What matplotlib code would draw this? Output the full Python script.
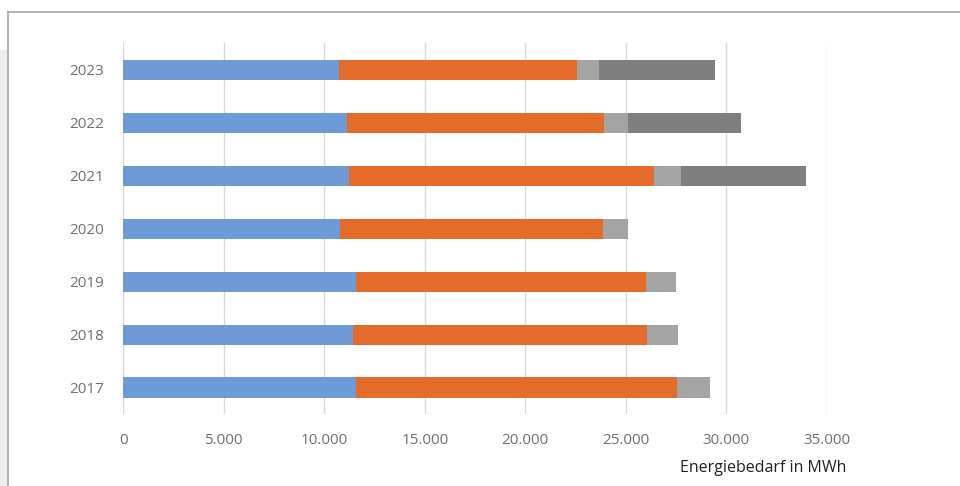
import numpy as np
import matplotlib.pyplot as plt
from matplotlib.patches import Rectangle
from matplotlib.lines import Line2D
from matplotlib.ticker import FuncFormatter

years = ['2017', '2018', '2019', '2020', '2021', '2022', '2023']
# energy demand per year and source, MWh
seg_blue = [11580, 11440, 11580, 10780, 11210, 11110, 10750]
seg_orange = [15980, 14600, 14410, 13100, 15200, 12800, 11810]
seg_light = [1630, 1570, 1510, 1210, 1330, 1210, 1110]
seg_dark = [0, 0, 0, 0, 6220, 5590, 5770]

colors = ['#6f9ad8', '#e36c2b', '#a4a4a4', '#7f7f7f']
x_ticks = [0, 5000, 10000, 15000, 20000, 25000, 30000, 35000]

plt.rcParams['font.family'] = ['Open Sans', 'DejaVu Sans']

fig = plt.figure(figsize=(9.6, 4.86), dpi=100)
fig.patch.set_facecolor('white')

# page frame: grey strip on the left, thin border top and left
fig.patches.append(Rectangle((0, 0), 8 / 960, 1 - 50 / 486, transform=fig.transFigure,
                             facecolor='#ececec', edgecolor='none', zorder=0))
fig.lines.append(Line2D([8 / 960, 1], [1 - 12 / 486, 1 - 12 / 486], transform=fig.transFigure,
                        color='#a6a6a6', linewidth=1.2))
fig.lines.append(Line2D([8 / 960, 8 / 960], [0, 1 - 12 / 486], transform=fig.transFigure,
                        color='#a6a6a6', linewidth=1.2))

ax = fig.add_axes([123.3 / 960, 1 - 414 / 486, (826.8 - 123.3) / 960, (414 - 43.5) / 486])
ax.set_facecolor('none')

y = np.arange(len(years))
left = np.zeros(len(years))
for vals, c in zip([seg_blue, seg_orange, seg_light, seg_dark], colors):
    vals = np.array(vals, dtype=float)
    ax.barh(y, vals, left=left, height=0.38, color=c, zorder=3)
    left += vals

ax.set_xlim(0, 35000)
ax.set_ylim(-0.5, len(years) - 0.5)
ax.set_xticks(x_ticks)
ax.xaxis.set_major_formatter(FuncFormatter(lambda v, p: f'{int(v):,}'.replace(',', '.')))
ax.set_yticks(y)
ax.set_yticklabels(years)
ax.grid(axis='x', color='#d9d9d9', linewidth=1, zorder=0)
for s in ax.spines.values():
    s.set_visible(False)
ax.tick_params(axis='both', length=0, labelsize=11, labelcolor='#707070')
ax.tick_params(axis='x', pad=14)
ax.tick_params(axis='y', pad=14)

fig.text(763 / 960, 1 - 468 / 486, 'Energiebedarf in MWh', ha='center', va='center',
         fontsize=11.5, color='#222222')

fig.savefig('out.png', dpi=100)
